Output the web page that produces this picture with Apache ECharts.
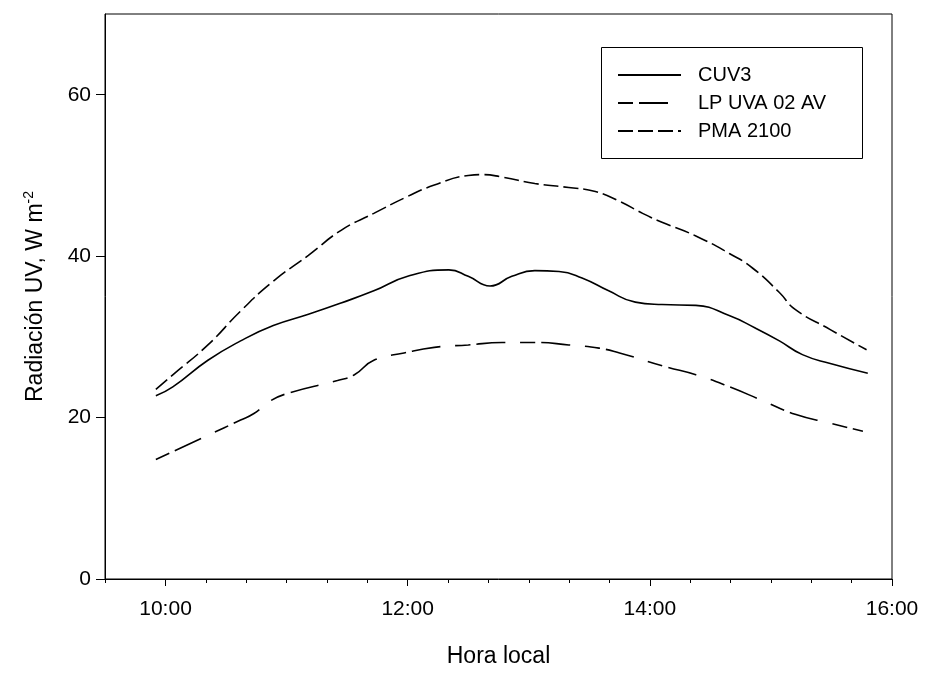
<!DOCTYPE html>
<html>
<head>
<meta charset="utf-8">
<script src="https://cdn.jsdelivr.net/npm/echarts@6/dist/echarts.min.js"></script>
<style>
  html, body { margin: 0; padding: 0; background: #fff; }
  #chart { width: 928px; height: 673px; }
</style>
</head>
<body>
<div id="chart"></div>
<script>
// hora local (decimal) , W m-2
const cuv3 = [
  [9.92, 22.7], [10.06, 23.8], [10.35, 27.1], [10.62, 29.5], [10.89, 31.4],
  [11.18, 32.8], [11.45, 34.2], [11.72, 35.7], [12.0, 37.5], [12.34, 38.3],
  [12.5, 37.5], [12.68, 36.3], [12.86, 37.5], [13.05, 38.2], [13.25, 38.1],
  [13.44, 37.3], [13.66, 35.7], [13.88, 34.3], [14.1, 34.0], [14.38, 33.9],
  [14.66, 32.6], [14.87, 31.1], [15.07, 29.5], [15.26, 27.8], [15.49, 26.7],
  [15.8, 25.5]
];
const lpUva = [
  [9.92, 14.8], [10.35, 17.8], [10.62, 19.7], [10.73, 20.5], [10.87, 22.1],
  [11.01, 23.0], [11.42, 24.6], [11.56, 25.3], [11.72, 27.1], [11.97, 28.0],
  [12.22, 28.7], [12.5, 29.0], [12.78, 29.3], [13.05, 29.3], [13.33, 29.0],
  [13.58, 28.6], [13.75, 28.0], [14.13, 26.3], [14.38, 25.3], [14.66, 23.8],
  [14.93, 22.1], [15.2, 20.4], [15.49, 19.3], [15.76, 18.3]
];
const pma = [
  [9.92, 23.5], [10.06, 25.3], [10.35, 29.0], [10.62, 33.2], [10.89, 36.9],
  [11.18, 40.1], [11.45, 43.2], [11.72, 45.3], [12.0, 47.4], [12.22, 48.8],
  [12.5, 50.0], [12.61, 50.1], [12.78, 49.8], [13.05, 49.0], [13.33, 48.5],
  [13.55, 48.0], [13.75, 46.8], [13.94, 45.3], [14.1, 44.2], [14.38, 42.5],
  [14.66, 40.3], [14.85, 38.5], [15.07, 35.5], [15.2, 33.4], [15.49, 30.9],
  [15.79, 28.4]
];
const seriesNames = ['CUV3', 'LP UVA 02 AV', 'PMA 2100'];
const majorHours = [10, 12, 14, 16];
const yTicks = [0, 20, 40, 60];

// ticks menores cada 20 min
const minorHours = [9.5];
for (let i = 0; i <= 18; i++) minorHours.push(10 + i / 3);

const font = 'Liberation Sans, Arial, sans-serif';
const chart = echarts.init(document.getElementById('chart'));

const option = {
  animation: false,
  grid: {
    left: 105, right: 36, top: 14, bottom: 91,
    show: true, borderColor: '#000', borderWidth: 1
  },
  xAxis: [
    {
      type: 'value', min: 9.5, max: 16,
      axisLine: { lineStyle: { color: '#000', width: 1 } },
      axisTick: { customValues: minorHours, length: 4, lineStyle: { color: '#000' } },
      axisLabel: { show: false },
      splitLine: { show: false }
    },
    {
      type: 'value', min: 9.5, max: 16, position: 'bottom',
      axisLine: { show: false },
      axisTick: { customValues: majorHours, length: 7, lineStyle: { color: '#000' } },
      axisLabel: {
        customValues: majorHours, margin: 20,
        color: '#000', fontSize: 21, fontFamily: font,
        formatter: v => Math.round(v) + ':00'
      },
      splitLine: { show: false },
      name: 'Hora local', nameLocation: 'middle', nameGap: 66,
      nameTextStyle: { color: '#000', fontSize: 23, fontFamily: font }
    }
  ],
  yAxis: {
    type: 'value', min: 0, max: 70,
    axisLine: { show: true, lineStyle: { color: '#000', width: 1 } },
    axisTick: { show: true, customValues: yTicks, length: 9, lineStyle: { color: '#000' } },
    axisLabel: { customValues: yTicks, margin: 14, color: '#000', fontSize: 21, fontFamily: font },
    splitLine: { show: false },
    name: '{t|Radiación UV, W m}{s|-2}',
    nameLocation: 'middle', nameGap: 55,
    nameTextStyle: {
      color: '#000', fontFamily: font,
      rich: {
        t: { fontSize: 23, lineHeight: 28, fontFamily: font, color: '#000' },
        s: { fontSize: 14, lineHeight: 28, verticalAlign: 'top', fontFamily: font, color: '#000' }
      }
    }
  },
  legend: {
    orient: 'vertical', left: 617, top: 65, padding: 0,
    itemWidth: 63, itemHeight: 14, itemGap: 8,
    data: seriesNames,
    itemStyle: { opacity: 0 },
    textStyle: { color: '#000', fontSize: 20, lineHeight: 20, fontFamily: font, padding: [0, 0, 0, 12] }
  },
  graphic: [{
    type: 'rect', silent: true,
    shape: { x: 601.5, y: 47.5, width: 261, height: 111 },
    style: { fill: 'none', stroke: '#000', lineWidth: 1 }
  }],
  series: [
    {
      name: seriesNames[0], type: 'line', data: cuv3, symbol: 'none',
      smooth: 0.5,
      lineStyle: { color: '#000', width: 1.6, type: 'solid' },
      itemStyle: { color: '#000' }
    },
    {
      name: seriesNames[1], type: 'line', data: lpUva, symbol: 'none',
      smooth: 0.5,
      lineStyle: { color: '#000', width: 1.6, type: [15, 6, 29, 15] },
      itemStyle: { color: '#000' }
    },
    {
      name: seriesNames[2], type: 'line', data: pma, symbol: 'none',
      smooth: 0.5,
      lineStyle: { color: '#000', width: 1.6, type: [15, 5] },
      itemStyle: { color: '#000' }
    }
  ]
};
chart.setOption(option);
</script>
</body>
</html>
